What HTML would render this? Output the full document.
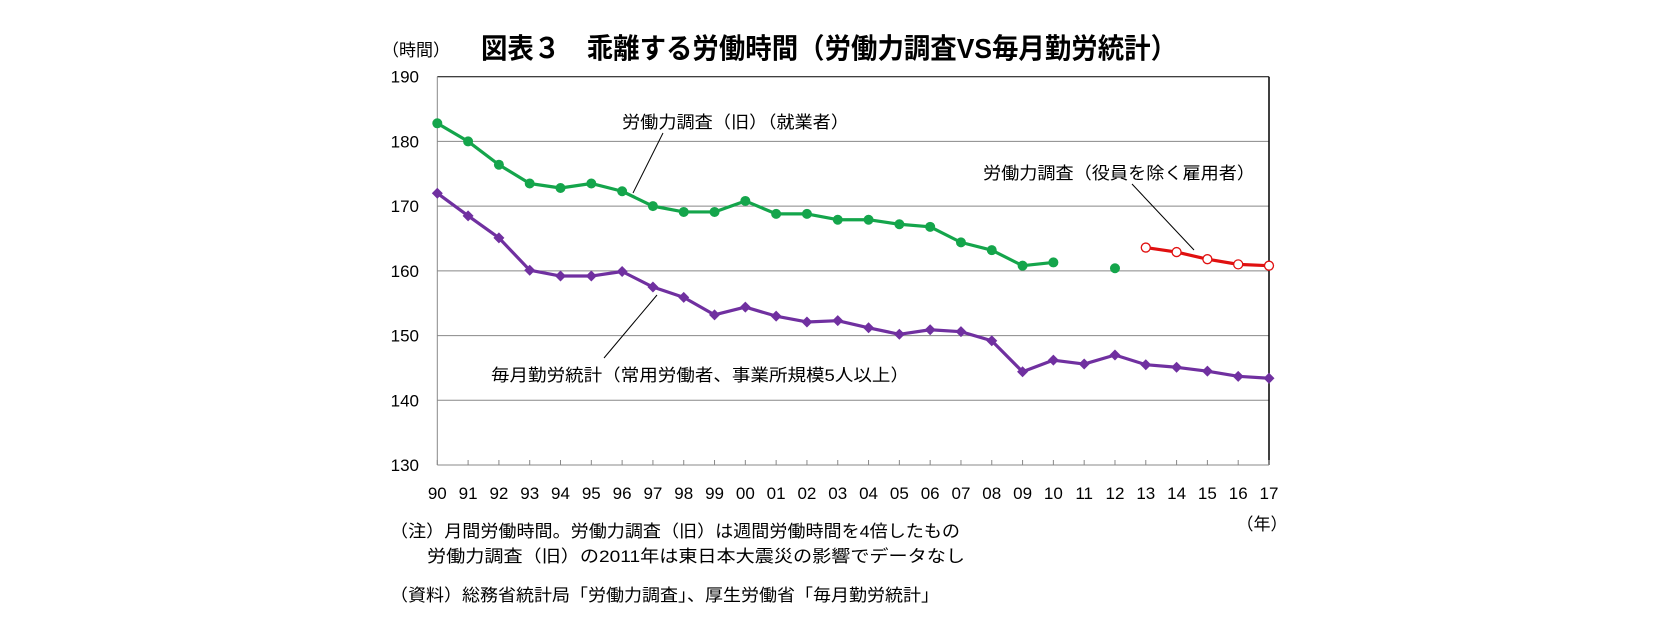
<!DOCTYPE html>
<html><head><meta charset="utf-8"><style>
html,body{margin:0;padding:0;background:#fff;}
body{width:1656px;height:639px;overflow:hidden;font-family:"Liberation Sans","Noto Sans CJK JP",sans-serif;}
svg text{font-family:"Liberation Sans","Noto Sans CJK JP",sans-serif;}
</style></head><body>
<svg id="chart" width="1656" height="639" xmlns="http://www.w3.org/2000/svg">
<text x="481" y="58" font-size="28" font-weight="bold" fill="#000" textLength="696" lengthAdjust="spacingAndGlyphs">図表３　乖離する労働時間（労働力調査VS毎月勤労統計）</text>
<text x="416" y="56" text-anchor="middle" font-size="17" fill="#000">（時間）</text>
<g id="grid"></g>
<g id="yticks"></g>
<g id="xticks"></g>
<g id="series"></g>
<text x="1262" y="530" text-anchor="middle" font-size="17">（年）</text>
<text x="622" y="128" font-size="17" textLength="227" lengthAdjust="spacingAndGlyphs">労働力調査（旧）（就業者）</text>
<line x1="663" y1="133" x2="633" y2="193" stroke="#000" stroke-width="1"/>
<text x="491" y="381" font-size="17" textLength="418" lengthAdjust="spacingAndGlyphs">毎月勤労統計（常用労働者、事業所規模5人以上）</text>
<line x1="604" y1="358" x2="657" y2="295" stroke="#000" stroke-width="1"/>
<text x="983" y="179" font-size="17" textLength="272" lengthAdjust="spacingAndGlyphs">労働力調査（役員を除く雇用者）</text>
<line x1="1132" y1="184" x2="1194" y2="250" stroke="#000" stroke-width="1"/>
<text x="390" y="537" font-size="17" textLength="570" lengthAdjust="spacingAndGlyphs">（注）月間労働時間。労働力調査（旧）は週間労働時間を4倍したもの</text>
<text x="427" y="562" font-size="17" textLength="538" lengthAdjust="spacingAndGlyphs">労働力調査（旧）の2011年は東日本大震災の影響でデータなし</text>
<text x="390" y="601" font-size="17" textLength="549" lengthAdjust="spacingAndGlyphs">（資料）総務省統計局「労働力調査」、厚生労働省「毎月勤労統計」</text>
</svg>
<script>
const years = ["90","91","92","93","94","95","96","97","98","99","00","01","02","03","04","05","06","07","08","09","10","11","12","13","14","15","16","17"];
const yTicks = [130,140,150,160,170,180,190];
const lfsOld = [182.8,180.0,176.4,173.5,172.8,173.5,172.3,170.0,169.1,169.1,170.8,168.8,168.8,167.9,167.9,167.2,166.8,164.4,163.2,160.8,161.3,null,160.4,null,null,null,null,null];
const monthly = [172.0,168.5,165.1,160.1,159.2,159.2,159.9,157.5,155.9,153.2,154.4,153.0,152.1,152.3,151.2,150.2,150.9,150.6,149.2,144.4,146.2,145.6,147.0,145.5,145.1,144.5,143.7,143.4];
const lfsEmp = [null,null,null,null,null,null,null,null,null,null,null,null,null,null,null,null,null,null,null,null,null,null,null,163.6,162.9,161.8,161.0,160.8];

const NS="http://www.w3.org/2000/svg";
const X0=437.3, X1=1269, Y0=465, Y1=76.7, VMIN=130, VMAX=190;
function xs(i){return X0+(X1-X0)*i/(years.length-1);}
function ys(v){return Y0-(v-VMIN)/(VMAX-VMIN)*(Y0-Y1);}
function mk(tag,attrs,parent){const e=document.createElementNS(NS,tag);for(const k in attrs)e.setAttribute(k,attrs[k]);parent.appendChild(e);return e;}
const grid=document.getElementById('grid'), yt=document.getElementById('yticks'), xt=document.getElementById('xticks'), ser=document.getElementById('series');
yTicks.forEach(v=>{
  const y=ys(v);
  if(v>VMIN){const l=mk('line',{x1:X0,x2:X1,y1:y,y2:y,stroke:v===VMAX?'#000':'#888','stroke-width':1},grid);
  
  }
  const t=mk('text',{x:419,y:y+6,'text-anchor':'end','font-size':17},yt);t.textContent=v;
  
  
});
const la=mk('line',{x1:X0,x2:X0,y1:Y1,y2:Y0,stroke:'#888','stroke-width':1},grid);


const ra=mk('line',{x1:X1,x2:X1,y1:Y1,y2:Y0,stroke:'#000','stroke-width':1.5},grid);


const ba=mk('line',{x1:X0,x2:X1,y1:Y0,y2:Y0,stroke:'#888','stroke-width':1},grid);


years.forEach((yr,i)=>{
  const x=xs(i);
  const tk=mk('line',{x1:x,x2:x,y1:Y0,y2:Y0-5,stroke:'#888','stroke-width':1},grid);
  
  
  const t=mk('text',{x:x,y:499,'text-anchor':'middle','font-size':17},xt);t.textContent=yr;
  
  
});
function drawLine(data,color,name){
  let seg=[];const segs=[];
  data.forEach((v,i)=>{if(v==null){if(seg.length)segs.push(seg);seg=[];}else seg.push([xs(i),ys(v)]);});
  if(seg.length)segs.push(seg);
  segs.forEach(s=>{if(s.length>1){const p=mk('polyline',{points:s.map(q=>q.join(',')).join(' '),fill:'none',stroke:color,'stroke-width':3.2,'stroke-linejoin':'round'},ser);
  
  }});
}
drawLine(lfsOld,'#14a54b','lfs-old');
drawLine(monthly,'#7030a0','monthly-labour');
drawLine(lfsEmp,'#e01010','lfs-employees');
lfsOld.forEach((v,i)=>{if(v==null)return;
  const c=mk('circle',{cx:xs(i),cy:ys(v),r:5,fill:'#14a54b'},ser);
  
  });
monthly.forEach((v,i)=>{if(v==null)return;const x=xs(i),y=ys(v);
  const d=mk('polygon',{points:`${x},${y-5.5} ${x+5.5},${y} ${x},${y+5.5} ${x-5.5},${y}`,fill:'#7030a0'},ser);
  
  });
lfsEmp.forEach((v,i)=>{if(v==null)return;
  const c=mk('circle',{cx:xs(i),cy:ys(v),r:4.5,fill:'#fff',stroke:'#e01010','stroke-width':1.3},ser);
  
  });
</script>
</body></html>
